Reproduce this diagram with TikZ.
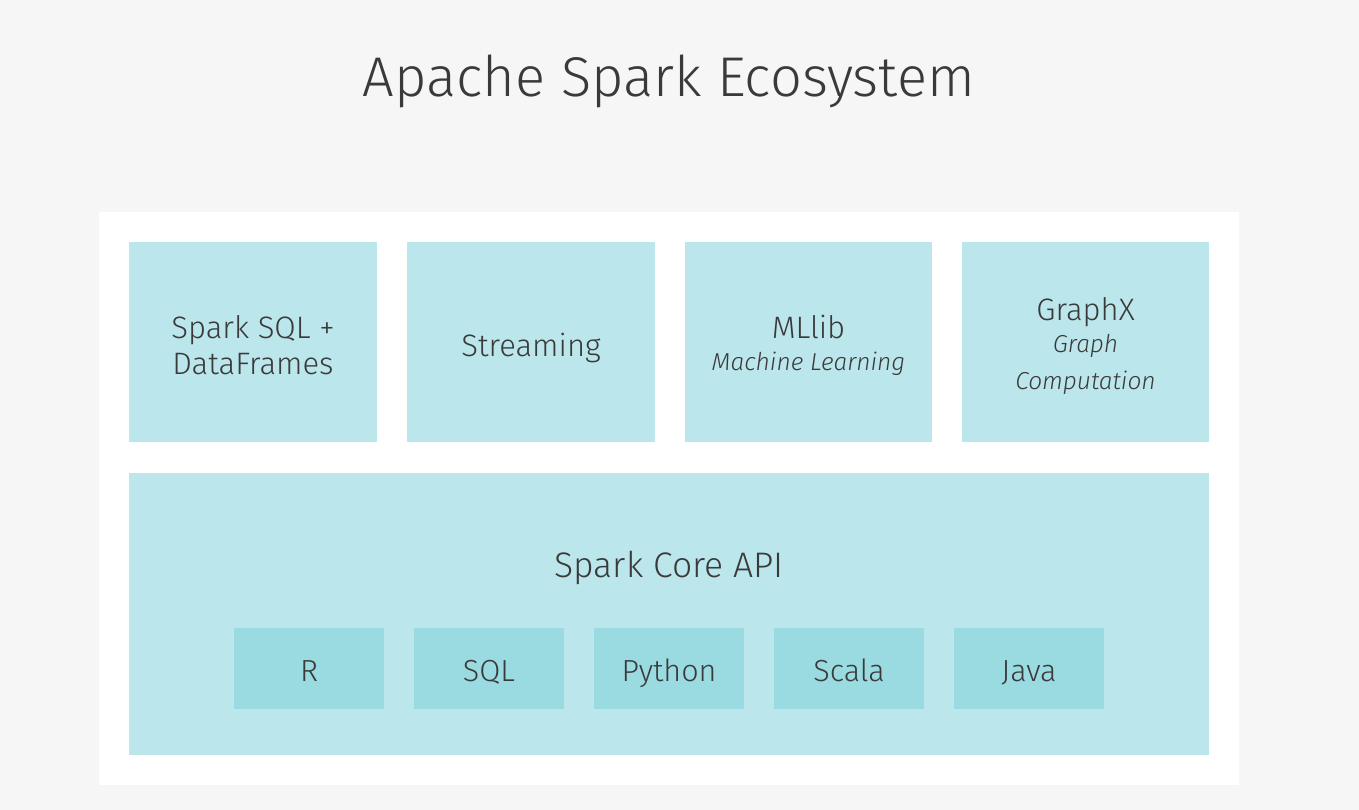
\documentclass[tikz,border=0pt]{standalone}
\usepackage{fontspec}
\setmainfont{Fira Sans}[UprightFont=* Light, ItalicFont=* Light Italic]
\definecolor{bg}{HTML}{F6F6F6}
\definecolor{cyanA}{HTML}{BBE6EB}
\definecolor{cyanB}{HTML}{9ADAE1}
\definecolor{txt}{HTML}{3A3A3A}
\begin{document}
\begin{tikzpicture}[x=1pt,y=-1pt,
  lbl/.style={text=txt, anchor=base, inner sep=0pt},
  big/.style={lbl, font=\fontsize{31}{36}\selectfont},
  ital/.style={lbl, font=\fontsize{24.5}{30}\selectfont\itshape}]
\fill[bg] (0,0) rectangle (1359,810);
\useasboundingbox (0,0) rectangle (1359,810);
\node[lbl, font=\fontsize{56}{60}\selectfont] (title) at (669,97) {Apache Spark Ecosystem};
\fill[white] (99,212) rectangle (1239,785);
\fill[cyanA] (129,242) rectangle (377,442);
\fill[cyanA] (407,242) rectangle (655,442);
\fill[cyanA] (685,242) rectangle (932,442);
\fill[cyanA] (962,242) rectangle (1209,442);
\node[big] (sqlA) at (253,338) {Spark SQL +};
\node[big] (sqlB) at (253,374) {DataFrames};
\node[big] (stream) at (531,356) {Streaming};
\node[big] (ml) at (808.5,338) {MLlib};
\node[ital] (mlsub) at (808.5,370) {Machine Learning};
\node[big] (gx) at (1085.5,320) {GraphX};
\node[ital] (gxA) at (1085.5,352) {Graph};
\node[ital] (gxB) at (1085.5,389) {Computation};
\fill[cyanA] (129,473) rectangle (1209,755);
\node[lbl, font=\fontsize{35.5}{40}\selectfont] (core) at (669,577) {Spark Core API};
\foreach \x/\n/\t in {234/r/R, 414/s/SQL, 594/p/Python, 774/sc/Scala, 954/j/Java}{
  \fill[cyanB] (\x,628) rectangle (\x+150,709);
  \node[lbl, font=\fontsize{30.5}{34}\selectfont] (\n) at (\x+75,681) {\t};
}
\end{tikzpicture}
\end{document}
